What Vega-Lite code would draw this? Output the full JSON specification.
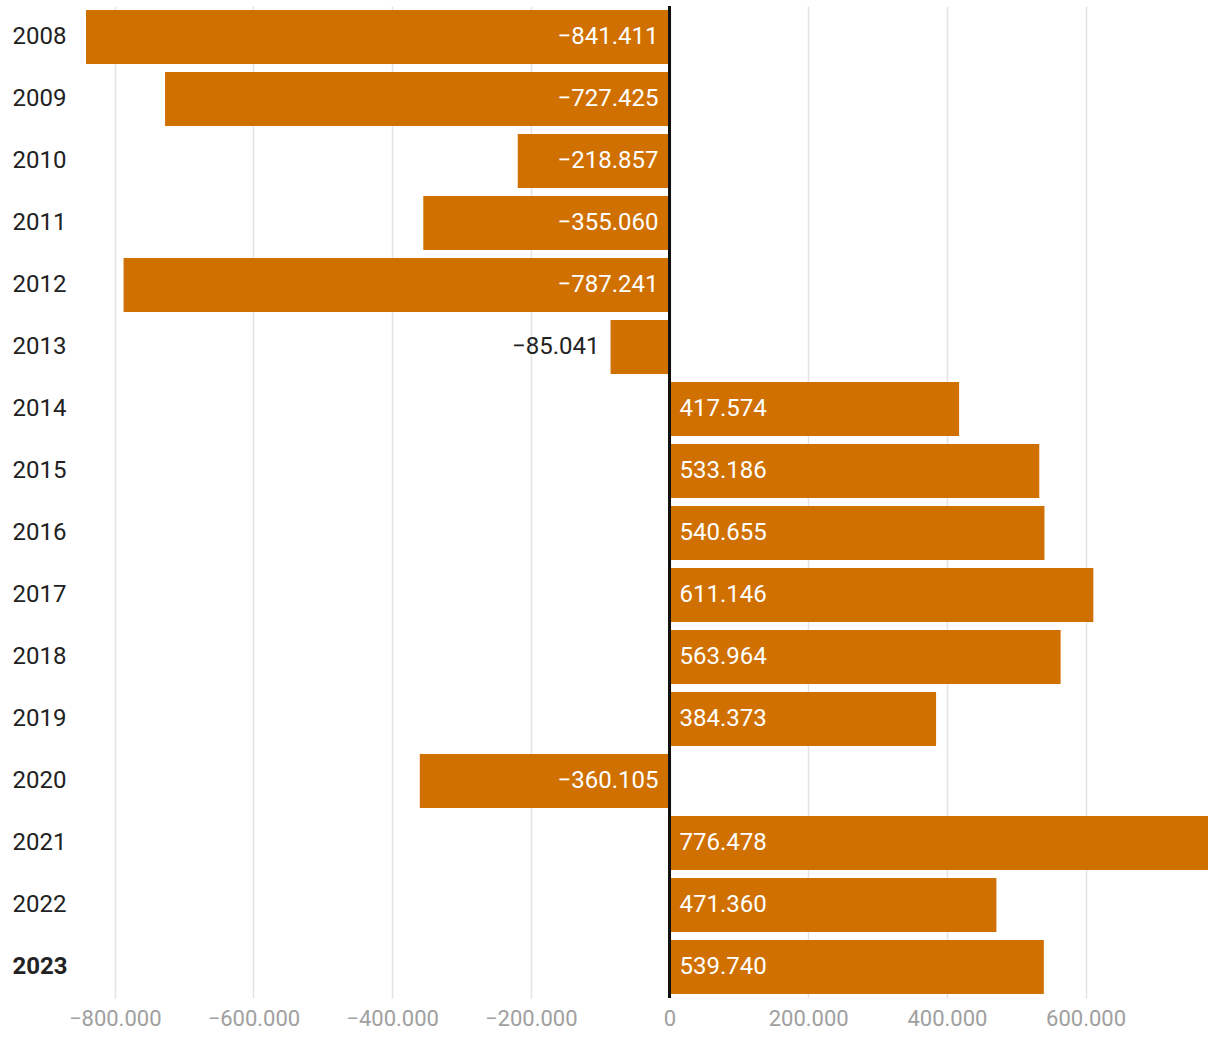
{
  "$schema": "https://vega.github.io/schema/vega-lite/v6.json",
  "autosize": "none",
  "padding": {"left": 86, "top": 6, "right": 12, "bottom": 42},
  "width": 1122,
  "height": 992,
  "background": "white",
  "config": {
    "font": "Roboto",
    "view": {"stroke": null},
    "locale": {"number": {"decimal": ",", "thousands": ".", "grouping": [3], "currency": ["", " €"], "minus": "−"}}
  },
  "data": {"values": [
    {"year": "2008", "value": -841411},
    {"year": "2009", "value": -727425},
    {"year": "2010", "value": -218857},
    {"year": "2011", "value": -355060},
    {"year": "2012", "value": -787241},
    {"year": "2013", "value": -85041},
    {"year": "2014", "value": 417574},
    {"year": "2015", "value": 533186},
    {"year": "2016", "value": 540655},
    {"year": "2017", "value": 611146},
    {"year": "2018", "value": 563964},
    {"year": "2019", "value": 384373},
    {"year": "2020", "value": -360105},
    {"year": "2021", "value": 776478},
    {"year": "2022", "value": 471360},
    {"year": "2023", "value": 539740}
  ]},
  "encoding": {
    "y": {
      "field": "year", "type": "nominal", "sort": null, "title": null,
      "scale": {"paddingInner": 0.13, "paddingOuter": 0.065},
      "axis": {
        "domain": false, "ticks": false, "labelAlign": "left", "labelPadding": 74,
        "labelFontSize": 24, "labelColor": "#222222",
        "labelFontWeight": {"condition": {"test": "datum.value == '2023'", "value": "bold"}, "value": "normal"}
      }
    }
  },
  "layer": [
    {
      "mark": {"type": "bar", "color": "#d07000"},
      "encoding": {
        "x": {
          "field": "value", "type": "quantitative", "title": null,
          "scale": {"domain": [-841411, 776478], "nice": false, "zero": false},
          "axis": {
            "values": [-800000, -600000, -400000, -200000, 0, 200000, 400000, 600000],
            "format": ",.0f", "domain": false, "ticks": false,
            "labelFontSize": 22, "labelColor": "#a0a0a0", "labelPadding": 10,
            "gridColor": "#e3e3e3", "gridWidth": 1.5
          }
        }
      }
    },
    {
      "mark": {"type": "rule", "color": "#111111", "strokeWidth": 2},
      "encoding": {"x": {"datum": 0}, "y": null}
    },
    {
      "transform": [{"filter": "datum.value < -150000"}],
      "mark": {"type": "text", "align": "right", "baseline": "middle", "dx": -11, "fontSize": 24, "color": "white"},
      "encoding": {"x": {"datum": 0}, "text": {"field": "value", "format": ",.0f"}}
    },
    {
      "transform": [{"filter": "datum.value < 0 && datum.value >= -150000"}],
      "mark": {"type": "text", "align": "right", "baseline": "middle", "dx": -11, "fontSize": 24, "color": "#222222"},
      "encoding": {"x": {"field": "value", "type": "quantitative"}, "text": {"field": "value", "format": ",.0f"}}
    },
    {
      "transform": [{"filter": "datum.value > 0"}],
      "mark": {"type": "text", "align": "left", "baseline": "middle", "dx": 10, "fontSize": 24, "color": "white"},
      "encoding": {"x": {"datum": 0}, "text": {"field": "value", "format": ",.0f"}}
    }
  ]
}
